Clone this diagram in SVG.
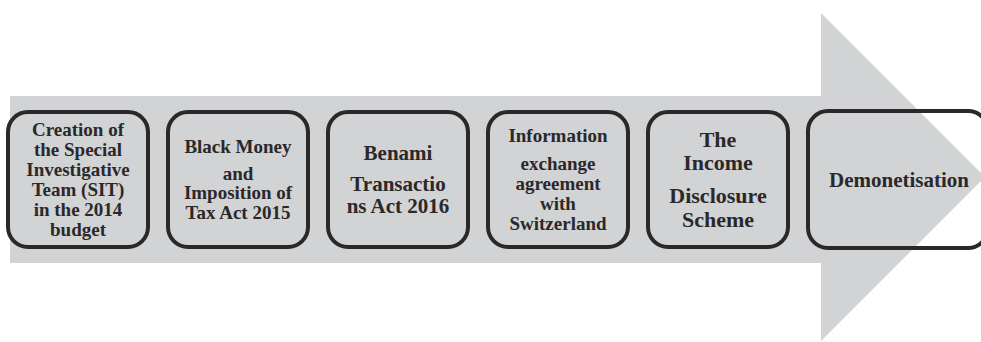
<svg xmlns="http://www.w3.org/2000/svg" width="981" height="342" viewBox="0 0 981 342">
<style>
.box{fill:none;stroke:#2b2829;stroke-width:4}
.t{font-family:"Liberation Serif","Times New Roman",serif;font-weight:bold;fill:#2b2829;text-anchor:middle}
.s19{font-size:19px}.s21{font-size:21px}.s22{font-size:22px}
</style>
<rect width="981" height="342" fill="#ffffff"/>
<g id="arrow">
<polygon points="10,96 821,96 821,13 985,177 821,341 821,263 10,263" fill="#d1d3d4"/>
</g>
<g id="node1">
<rect class="box" x="8" y="112" width="140" height="135" rx="20"/>
<text class="t s19" x="78" y="136">Creation of</text>
<text class="t s19" x="78" y="156">the Special</text>
<text class="t s19" x="78" y="176">Investigative</text>
<text class="t s19" x="78" y="196">Team (SIT)</text>
<text class="t s19" x="78" y="216">in the 2014</text>
<text class="t s19" x="78" y="236">budget</text>
</g>
<g id="node2">
<rect class="box" x="168" y="112" width="140" height="135" rx="20"/>
<text class="t s19" x="238" y="153">Black Money</text>
<text class="t s19" x="238" y="180">and</text>
<text class="t s19" x="238" y="199">Imposition of</text>
<text class="t s19" x="238" y="219">Tax Act 2015</text>
</g>
<g id="node3">
<rect class="box" x="328" y="112" width="140" height="135" rx="20"/>
<text class="t s21" x="398" y="160">Benami</text>
<text class="t s21" x="398" y="191">Transactio</text>
<text class="t s21" x="398" y="213">ns Act 2016</text>
</g>
<g id="node4">
<rect class="box" x="488" y="112" width="140" height="135" rx="20"/>
<text class="t s19" x="558" y="142">Information</text>
<text class="t s19" x="558" y="170">exchange</text>
<text class="t s19" x="558" y="190">agreement</text>
<text class="t s19" x="558" y="210">with</text>
<text class="t s19" x="558" y="230">Switzerland</text>
</g>
<g id="node5">
<rect class="box" x="648" y="112" width="140" height="135" rx="20"/>
<text class="t s22" x="718" y="147">The</text>
<text class="t s22" x="718" y="170">Income</text>
<text class="t s22" x="718" y="203">Disclosure</text>
<text class="t s22" x="718" y="227">Scheme</text>
</g>
<g id="node6">
<rect class="box" x="808" y="111" width="180" height="137" rx="20"/>
<text class="t s21" x="899" y="187">Demonetisation</text>
</g>
<g id="connectors"></g>
</svg>
